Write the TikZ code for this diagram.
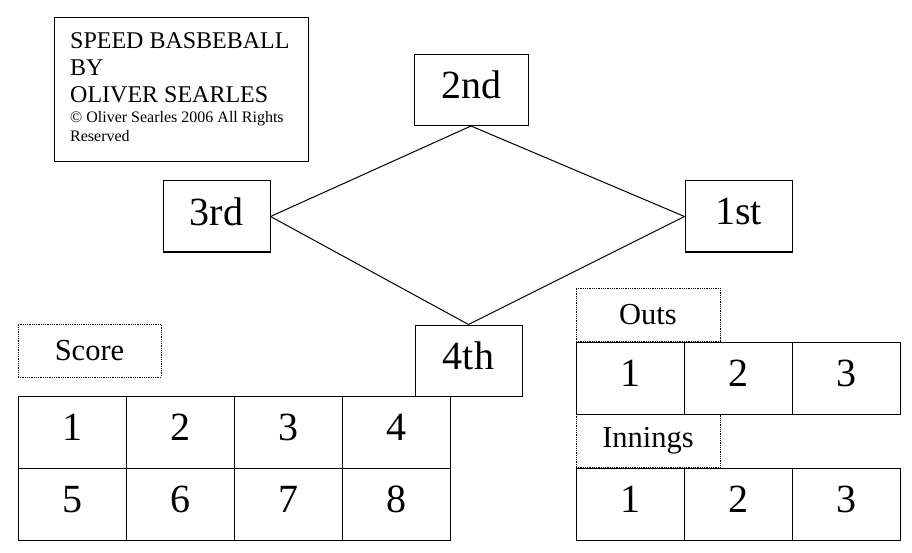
\documentclass[tikz,border=0pt]{standalone}
\usepackage{fontspec}
\setmainfont{Liberation Serif}
\usetikzlibrary{positioning}

\tikzset{
    base/.style={draw, line width=1pt, inner sep=0pt, minimum width=107pt, minimum height=71pt,
        font=\fontsize{40}{48}\selectfont, text depth=10pt},
    cell/.style={draw, line width=1pt, inner sep=0pt, minimum width=108pt, minimum height=72pt,
        font=\fontsize{40}{48}\selectfont, text depth=10pt},
    caption/.style={draw, densely dotted, line width=0.8pt, inner sep=0pt, minimum width=144pt,
        minimum height=53pt, font=\fontsize{30.5}{36}\selectfont}
}

\begin{document}
\begin{tikzpicture}[x=1pt, y=-1pt]
    \useasboundingbox (0,0) rectangle (912,553);

    % Title
    \node[draw, line width=1pt, minimum width=254pt, minimum height=144pt] (title) at (181,90) {};
    \node[anchor=north west, inner sep=0pt, align=left, font=\fontsize{24}{27}\selectfont] (titletext) at (70,32)
        {SPEED BASBEBALL\\BY\\OLIVER SEARLES\\[-7pt]
         {\fontsize{16}{19}\selectfont © Oliver Searles 2006 All Rights}\\[-7.6pt]
         {\fontsize{16}{19}\selectfont Reserved}};

    % Bases
    \node[base, minimum width=114pt] (second) at (471,90) {2nd};
    \node[base] (third) at (216.5,216.5) {3rd};
    \node[base] (first) at (738.5,216.5) {1st};
    \node[base] (fourth) at (468.5,360.5) {4th};

    % Diamond
    \foreach \i/\j in {second.south/first.west, first.west/fourth.north, fourth.north/third.east, third.east/second.south}
        \draw[line width=1pt] (\i) -- (\j);

    % Score
    \node[caption, minimum width=143pt] (score) at (89.5,350.5) {Score};
    \foreach \n/\x/\y in {1/72/432.5, 2/180/432.5, 3/288/432.5, 4/396/432.5,
                          5/72/504.5, 6/180/504.5, 7/288/504.5, 8/396/504.5}
        \node[cell] (score\n) at (\x,\y) {\n};

    % Outs
    \node[caption] (outs) at (648,314.5) {Outs};
    \foreach \n/\x in {1/630, 2/738, 3/846}
        \node[cell] (outs\n) at (\x,378) {\n};

    % Innings
    \node[caption] (innings) at (648,441) {Innings};
    \foreach \n/\x in {1/630, 2/738, 3/846}
        \node[cell] (inn\n) at (\x,504) {\n};

\end{tikzpicture}
\end{document}
